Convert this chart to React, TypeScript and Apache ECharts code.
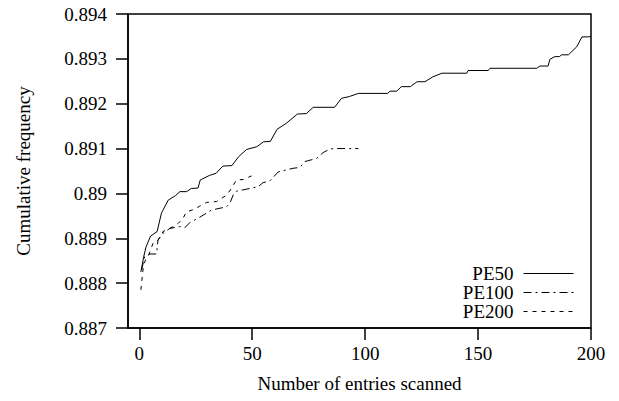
import React, { useEffect, useRef } from "react";
import * as echarts from "echarts";

const xTicks = [0, 50, 100, 150, 200];

const pe50X = [0.7, 2, 3, 5, 7.9, 9.8, 12.8, 16, 18, 21, 23, 26, 27, 31, 34, 37, 41, 44, 47.5, 52, 55, 58, 61, 65, 70, 74, 77, 86.5, 89.5, 93, 97, 110, 111, 114, 116, 120, 123, 126.5, 130, 134, 145, 145.6, 154.5, 155.3, 176, 177.4, 181, 181.8, 184, 186, 187, 190, 193.7, 196, 198.8, 200];
const pe50Y = [0.88825, 0.8886, 0.88881, 0.88905, 0.88915, 0.88956, 0.88985, 0.88995, 0.89004, 0.89004, 0.89011, 0.89012, 0.8903, 0.8904, 0.89045, 0.89061, 0.89062, 0.89082, 0.89098, 0.89104, 0.89115, 0.89116, 0.89143, 0.89156, 0.89177, 0.89178, 0.89192, 0.89192, 0.89212, 0.89216, 0.89223, 0.89223, 0.89228, 0.89228, 0.89238, 0.89238, 0.89249, 0.89249, 0.8926, 0.89268, 0.89268, 0.89274, 0.89274, 0.89279, 0.89279, 0.89284, 0.89284, 0.89299, 0.89305, 0.89305, 0.89309, 0.89309, 0.89327, 0.89349, 0.89349, 0.8935];

const pe100X = [1, 2.4, 4.7, 7.6, 8.3, 10.5, 13.5, 17.9, 20.2, 22.4, 26.8, 32, 35.7, 38.6, 40.1, 41.6, 43, 48.9, 52.6, 54.8, 57.8, 61.5, 68.1, 71.1, 73.3, 78.5, 81.4, 84, 86, 97];
const pe100Y = [0.88829, 0.88859, 0.88865, 0.88865, 0.88896, 0.88911, 0.88922, 0.88926, 0.88924, 0.88935, 0.88947, 0.88963, 0.88967, 0.8897, 0.88978, 0.88997, 0.89005, 0.89011, 0.89015, 0.89024, 0.89028, 0.89048, 0.89056, 0.89058, 0.89071, 0.89078, 0.89091, 0.89098, 0.891, 0.891];

const pe200X = [0.7, 1.7, 2.7, 3.9, 6.1, 8.3, 10.5, 15, 17.2, 19.4, 20.9, 24.6, 26.8, 29.8, 34.2, 38.6, 40.8, 43, 46, 49.7];
const pe200Y = [0.88785, 0.88833, 0.88852, 0.88859, 0.88889, 0.88896, 0.88915, 0.88926, 0.88933, 0.88945, 0.88959, 0.88965, 0.88972, 0.8898, 0.88982, 0.88996, 0.89011, 0.8903, 0.89031, 0.89039];

const seriesNames = ["PE50", "PE100", "PE200"];

const FONT = '"Liberation Serif", "Times New Roman", serif';
const FS = 19;

function zip(xs: number[], ys: number[]) {
  return xs.map((x, i) => [x, ys[i]]);
}

export default function App() {
  const ref = useRef<HTMLDivElement>(null);
  useEffect(() => {
    if (!ref.current) return;
    const chart = echarts.init(ref.current, undefined, { renderer: "svg" });
    const lineBase = { type: "line", showSymbol: false, symbol: "none", silent: true };
    chart.setOption({
      animation: false,
      backgroundColor: "#fff",
      textStyle: { fontFamily: FONT, color: "#000" },
      grid: {
        left: 128,
        right: 28,
        top: 14,
        bottom: 73,
        show: true,
        borderColor: "#000",
        borderWidth: 1.5,
        containLabel: false,
      },
      legend: {
        orient: "vertical",
        right: 40,
        top: 259,
        align: "right",
        itemWidth: 50,
        itemHeight: 14,
        itemGap: 0,
        itemStyle: { opacity: 0 },
        lineStyle: { width: 1 },
        textStyle: { fontFamily: FONT, fontSize: FS, color: "#000", lineHeight: 19, padding: [0, 5, 0, 0] },
        data: seriesNames,
      },
      xAxis: {
        type: "value",
        min: -5,
        max: 200,
        splitLine: { show: false },
        axisLine: { show: true, onZero: false, lineStyle: { color: "#000", width: 1.5 } },
        axisTick: { show: true, inside: false, length: 12, customValues: xTicks, lineStyle: { color: "#000", width: 1.5 } },
        axisLabel: { customValues: xTicks, margin: 16, fontFamily: FONT, fontSize: FS, color: "#000" },
        name: "Number of entries scanned",
        nameLocation: "middle",
        nameGap: 46,
        nameTextStyle: { fontFamily: FONT, fontSize: FS, color: "#000" },
      },
      yAxis: {
        type: "value",
        min: 0.887,
        max: 0.894,
        interval: 0.001,
        splitLine: { show: false },
        axisLine: { show: true, onZero: false, lineStyle: { color: "#000", width: 1.5 } },
        axisTick: { show: true, inside: false, length: 12, lineStyle: { color: "#000", width: 1.5 } },
        axisLabel: {
          margin: 21,
          fontFamily: FONT,
          fontSize: FS,
          color: "#000",
          formatter: (v: number) => String(parseFloat(v.toFixed(3))),
        },
        name: "Cumulative frequency",
        nameLocation: "middle",
        nameGap: 95,
        nameTextStyle: { fontFamily: FONT, fontSize: FS, color: "#000" },
      },
      series: [
        {
          ...lineBase,
          name: seriesNames[0],
          data: zip(pe50X, pe50Y),
          lineStyle: { color: "#000", width: 1, type: "solid" },
          itemStyle: { color: "#000" },
        },
        {
          ...lineBase,
          name: seriesNames[1],
          data: zip(pe100X, pe100Y),
          lineStyle: { color: "#000", width: 1, type: [8, 4, 2, 4] },
          itemStyle: { color: "#000" },
        },
        {
          ...lineBase,
          name: seriesNames[2],
          data: zip(pe200X, pe200Y),
          lineStyle: { color: "#000", width: 1, type: [4, 5] },
          itemStyle: { color: "#000" },
        },
      ],
    });
    return () => chart.dispose();
  }, []);
  return <div ref={ref} style={{ width: 619, height: 401, position: "absolute", left: 0, top: 0 }} />;
}
